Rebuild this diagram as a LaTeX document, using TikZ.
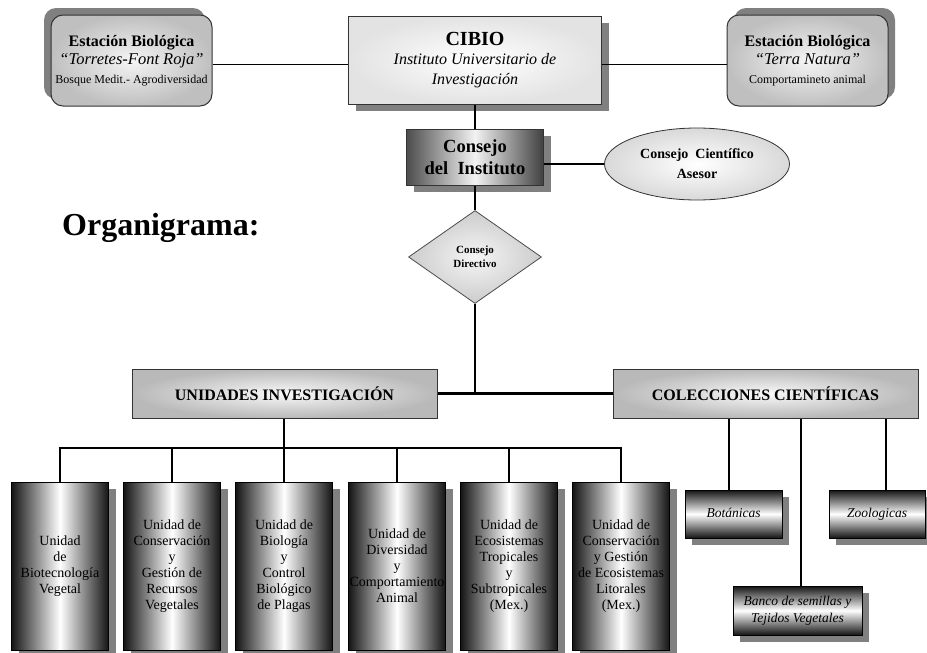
\documentclass[tikz,border=0pt]{standalone}
\usepackage{fontspec}
\setmainfont{Liberation Serif}
\usetikzlibrary{shapes.geometric,shadows}
\begin{document}
\begin{tikzpicture}[x=1pt,y=-1pt,
  shbr/.style={drop shadow={shadow xshift=7pt,shadow yshift=-7pt,fill=black!50,opacity=1}},
  shul/.style={drop shadow={shadow xshift=-7pt,shadow yshift=7pt,fill=black!50,opacity=1}},
  shur/.style={drop shadow={shadow xshift=7pt,shadow yshift=7pt,fill=black!50,opacity=1}},
  station/.style={rectangle,rounded corners=12pt,draw=black!80,line width=1pt,
    inner color=gray!8,outer color=gray!50,minimum width=161pt,minimum height=91pt,
    align=center,inner sep=0pt,font=\fontsize{12}{18.5}\selectfont},
  cibiobox/.style={rectangle,draw=black!80,line width=1pt,inner color=white,outer color=gray!22,
    minimum width=253pt,minimum height=88pt,align=center,inner sep=0pt,
    font=\fontsize{16}{19.5}\selectfont},
  consbox/.style={rectangle,draw=black!80,line width=1pt,left color=black!70,right color=black!75,
    middle color=white!95!black,minimum width=137pt,minimum height=56pt,align=center,inner sep=0pt,
    font=\fontsize{18.5}{22}\selectfont\bfseries},
  asesorbox/.style={ellipse,draw=black!80,line width=0.8pt,inner color=white,outer color=gray!30,
    minimum width=185pt,minimum height=72pt,align=center,inner sep=0pt,
    font=\fontsize{14}{20}\selectfont\bfseries},
  dirbox/.style={diamond,draw=black!70,line width=0.8pt,inner color=gray!8,outer color=gray!40,
    minimum width=133pt,minimum height=93pt,align=center,inner sep=0pt,
    font=\fontsize{11}{14}\selectfont\bfseries},
  headbox/.style={rectangle,draw=black!80,line width=1pt,inner color=gray!5,outer color=gray!55,
    minimum width=305pt,minimum height=49pt,align=center,inner sep=0pt,
    font=\fontsize{16}{18}\selectfont\bfseries},
  unitbox/.style={rectangle,draw=black,line width=1pt,left color=black!92,right color=black!92,
    middle color=white,minimum width=97pt,minimum height=168pt,align=center,inner sep=0pt,
    font=\fontsize{14}{16}\selectfont},
  colbox/.style={rectangle,draw=black,line width=1pt,top color=black!92,bottom color=black!92,
    middle color=white,minimum height=48pt,align=center,inner sep=0pt,
    font=\fontsize{13.5}{17}\selectfont\itshape},
  thick line/.style={line width=2.6pt},
  thin line/.style={line width=1.2pt}
]
\useasboundingbox (0,0) rectangle (927,653);

% top row
\node[station,shul] (estl) at (131.5,60.5)
  {{\fontsize{16}{18}\selectfont\bfseries Estación Biológica}\\
   {\fontsize{16.5}{18}\selectfont\itshape “Torretes-Font Roja”}\\
   Bosque Medit.- Agrodiversidad};
\node[station,shur] (estr) at (807.5,60.5)
  {{\fontsize{16}{18}\selectfont\bfseries Estación Biológica}\\
   {\fontsize{16.5}{18}\selectfont\itshape “Terra Natura”}\\
   Comportamineto animal};
\node[cibiobox,shbr] (cibio) at (475,60)
  {{\fontsize{20}{20}\selectfont\bfseries CIBIO}\\
   {\itshape Instituto Universitario de}\\
   {\itshape Investigación}};

\draw[thin line] ([yshift=-4pt]estl.east) -- ([yshift=-4pt]estl.east -| cibio.west);
\draw[thin line] ([yshift=-4pt]estr.west -| cibio.east) -- ([yshift=-4pt]estr.west);

% consejo
\node[consbox,shbr] (consejo) at (475,157) {Consejo\\del\ \ Instituto};
\node[asesorbox] (asesor) at (697,164) {Consejo\ \ Científico\\Asesor};
\node[dirbox] (dir) at (475,257) {Consejo\\Directivo};

\node[font=\fontsize{32}{34}\selectfont\bfseries,anchor=base west,inner sep=0pt] (org) at (62,235) {Organigrama:};

\draw[thick line] (cibio.south) -- (consejo.north);
\draw[thick line] (consejo.south) -- (dir.north);
\draw[thin line] (consejo.east |- asesor.west) -- (asesor.west);

% heads
\node[headbox] (unid) at (284.5,393.5) {UNIDADES INVESTIGACIÓN};
\node[headbox] (colec) at (765.5,393.5) {COLECCIONES CIENTÍFICAS};

\draw[thick line] (unid.east) -- (colec.west);
\draw[thick line] (dir.south) -- (dir.south |- unid.east);

% units
\node[unitbox,shbr] (u1) at (60,566) {Unidad\\de\\Biotecnología\\Vegetal};
\node[unitbox,shbr] (u2) at (172,566) {Unidad de\\Conservación\\y\\Gestión de\\Recursos\\Vegetales};
\node[unitbox,shbr] (u3) at (284,566) {Unidad de\\Biología\\y\\Control\\Biológico\\de Plagas};
\node[unitbox,shbr] (u4) at (397,566) {Unidad de\\Diversidad\\y\\Comportamiento\\Animal};
\node[unitbox,shbr] (u5) at (509,566) {Unidad de\\Ecosistemas\\Tropicales\\y\\Subtropicales\\(Mex.)};
\node[unitbox,shbr] (u6) at (621,566) {Unidad de\\Conservación\\y Gestión\\de Ecosistemas\\Litorales\\(Mex.)};

\coordinate (bus) at (284,448);
\draw[thick line] (unid.south -| u3.north) -- (bus);
\draw[thick line] ([xshift=-1.3pt]bus -| u1.north) -- ([xshift=1.3pt]bus -| u6.north);
\foreach \u in {u1,u2,u3,u4,u5,u6}
  \draw[thin line] (bus -| \u.north) -- (\u.north);

% collections
\node[colbox,shbr,minimum width=97pt] (bot) at (733.5,514) {Botánicas\strut};
\node[colbox,shbr,minimum width=96pt] (zoo) at (877,514) {Zoologicas\strut};
\node[colbox,shbr,minimum width=129pt,minimum height=49pt] (banco) at (797.5,610.5)
  {Banco de semillas y\\Tejidos Vegetales};

\draw[thin line] ([xshift=-4.5pt]bot.north |- colec.south) -- ([xshift=-4.5pt]bot.north);
\draw[thin line] ([xshift=3.5pt]banco.north |- colec.south) -- ([xshift=3.5pt]banco.north);
\draw[thin line] ([xshift=9pt]zoo.north |- colec.south) -- ([xshift=9pt]zoo.north);
\end{tikzpicture}
\end{document}
